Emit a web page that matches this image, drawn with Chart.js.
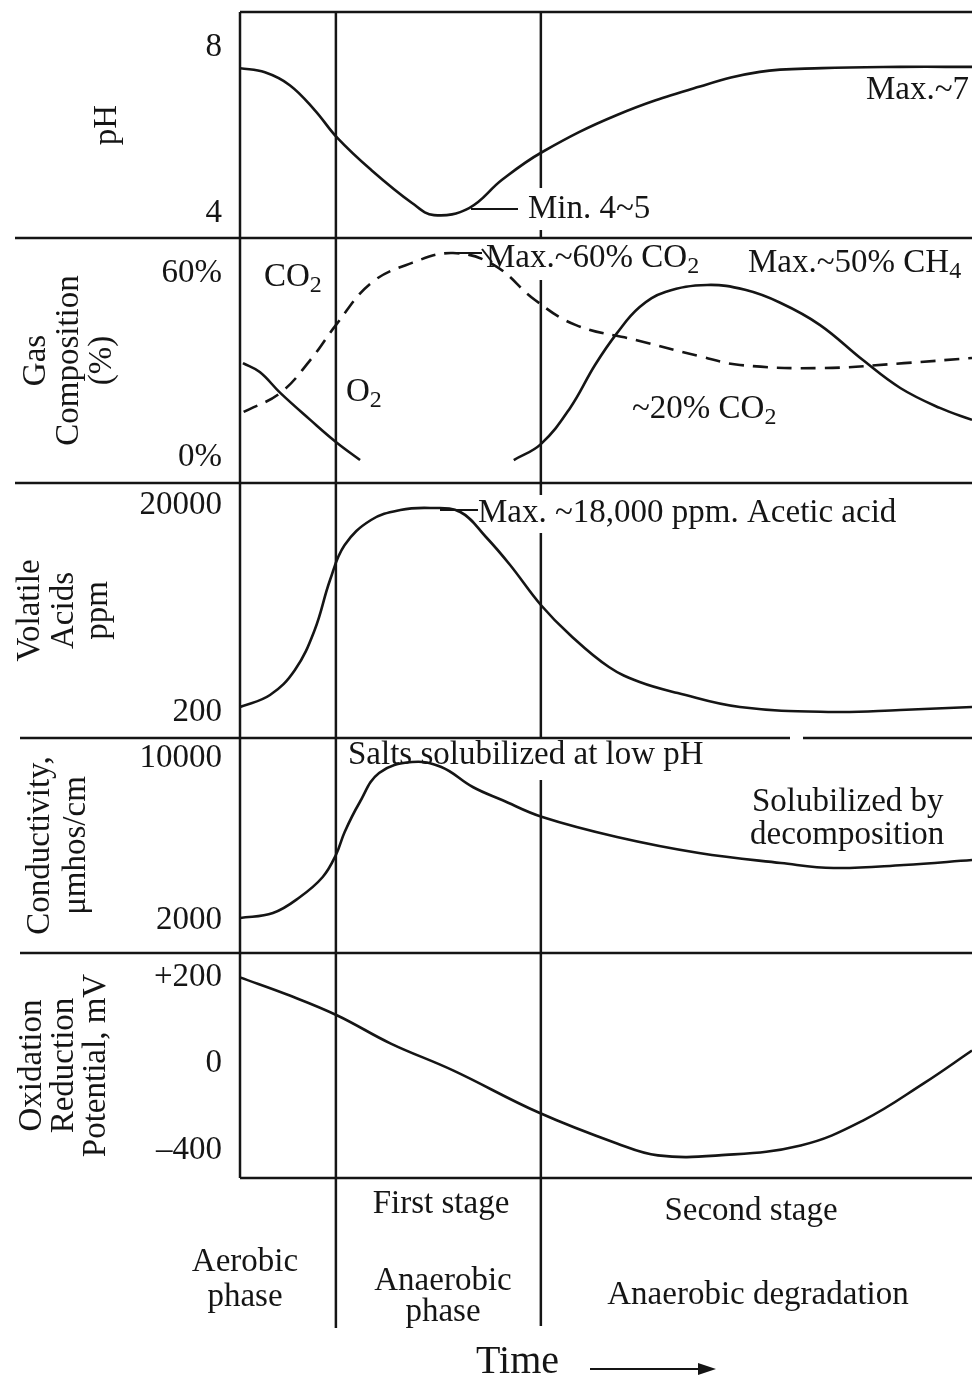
<!DOCTYPE html>
<html><head><meta charset="utf-8">
<script src="https://cdn.jsdelivr.net/npm/chart.js@4.4.1/dist/chart.umd.min.js"></script>
<style>
html,body{margin:0;padding:0;background:#fff;width:972px;height:1382px;overflow:hidden;position:relative;}
canvas{position:absolute;left:0;}
</style></head><body>
<canvas id="cPh"></canvas>
<canvas id="cGas"></canvas>
<canvas id="cVa"></canvas>
<canvas id="cCond"></canvas>
<canvas id="cOrp"></canvas>
<script>
// ---------------- data (time in arbitrary units 0..100) ----------------
const phaseBounds = [0, 13.1, 41.1, 100];

const phTime   = [0, 3.4, 6.8, 10.2, 13.3, 17.9, 23.5, 26.5, 31.3, 35.8, 41.3, 51.5, 62.7, 71.0, 79.5, 90.2, 100];
const phValues = [7.49, 7.39, 7.08, 6.48, 5.81, 5.04, 4.24, 3.95, 4.12, 4.80, 5.47, 6.36, 7.04, 7.40, 7.49, 7.52, 7.52];
const phTicks  = [8, 4];
const phLabels = ['8', '4'];

const co2Time   = [0.5, 5.5, 9.6, 13.1, 17.9, 23.5, 29.1, 34.7, 40.3, 45.9, 54.2, 62.7, 68.3, 79.5, 90.7, 100];
const co2Values = [14.7, 20.9, 31.6, 43.0, 56.7, 63.3, 66.5, 62.6, 51.2, 43.0, 38.1, 32.9, 30.0, 29.0, 30.6, 32.3];
const o2Time    = [0.4, 2.7, 5.5, 9.6, 13.1, 16.4];
const o2Values  = [30.6, 27.7, 20.9, 12.1, 4.9, -1.0];
const ch4Time   = [37.4, 41.1, 45.1, 48.5, 51.5, 54.6, 58.1, 63.8, 69.0, 73.8, 79.2, 85.1, 90.2, 95.6, 100];
const ch4Values = [-1.0, 4.2, 16.0, 30.0, 40.4, 48.9, 53.8, 56.1, 54.5, 50.3, 43.1, 31.6, 22.5, 16.0, 12.1];
const gasTicks  = [60, 0];
const gasLabels = ['60%', '0%'];

const vaTime   = [0, 4.1, 7.5, 10.2, 12.3, 14.3, 17.9, 21.9, 26.0, 30.1, 33.6, 36.9, 41.1, 45.1, 50.4, 54.6, 59.8, 68.3, 81.1, 90.2, 100];
const vaValues = [678, 1826, 4217, 8043, 12826, 16174, 18565, 19521, 19713, 19330, 16939, 14261, 10435, 7565, 4504, 3070, 2017, 678, 200, 391, 678];
const vaTicks  = [20000, 200];
const vaLabels = ['20000', '200'];

const condTime   = [0, 4.5, 8.2, 11.3, 13.1, 14.3, 16.3, 19.0, 23.5, 27.5, 31.8, 35.8, 41.3, 51.5, 62.7, 73.9, 81.1, 90.7, 100];
const condValues = [2099, 2346, 3136, 4123, 5210, 6346, 7777, 9259, 9802, 9555, 8568, 7926, 7086, 6099, 5309, 4815, 4568, 4716, 4963];
const condTicks  = [10000, 2000];
const condLabels = ['10000', '2000'];

const orpTime   = [0, 6.8, 13.3, 20.6, 29.1, 40.8, 51.5, 57.1, 65.4, 76.6, 85.1, 93.4, 100];
const orpValues = [199, 157, 111, 46, -32, -227, -370, -425, -425, -379, -264, -92, 30];
const orpTicks  = [200, 0, -400];
const orpLabels = ['+200', '0', '\u2013400'];
// the printed ORP axis is not linear: +200..0 and 0..-400 take equal heights
const orpToAxis = v => v >= 0 ? v / 200 : v / 400;

// ---------------- drawing ----------------
const INK = '#151515';
const FONT = "'Liberation Serif', 'Times New Roman', serif";
Chart.defaults.font.family = FONT;
Chart.defaults.color = INK;

const zip = (xs, ys) => xs.map((x, i) => ({x, y: ys[i]}));

function drawRuns(ctx, runs, x, y, size, align) {
  ctx.textBaseline = 'middle';
  ctx.textAlign = 'left';
  const fs = r => (r.sub ? Math.round(size * 0.72) : size);
  let total = 0;
  for (const r of runs) { ctx.font = fs(r) + 'px ' + FONT; total += ctx.measureText(r.s).width; }
  let cx = align === 'center' ? x - total / 2 : x;
  for (const r of runs) {
    ctx.font = fs(r) + 'px ' + FONT;
    ctx.fillText(r.s, cx, y + (r.sub ? size * 0.27 : 0));
    cx += ctx.measureText(r.s).width;
  }
}

function decor(p) {
  return {
    id: 'decor_' + p.key,
    afterDatasetsDraw(chart) {
      const {ctx, chartArea: a, scales: {x}} = chart;
      const off = p.canvasTop;
      ctx.save();
      ctx.strokeStyle = INK; ctx.fillStyle = INK; ctx.lineWidth = 2.5;
      const seg = (x1, y1, x2, y2) => { ctx.beginPath(); ctx.moveTo(x1, y1); ctx.lineTo(x2, y2); ctx.stroke(); };
      seg(a.left, a.top, a.left, a.bottom);
      if (p.topLine) seg(a.left, a.top, a.right, a.top);
      let sx = p.sepLeft;
      for (const [g1, g2] of (p.sepGaps || [])) { seg(sx, a.bottom, g1, a.bottom); sx = g2; }
      seg(sx, a.bottom, a.right, a.bottom);
      const xa = x.getPixelForValue(phaseBounds[1]);
      const xb = x.getPixelForValue(phaseBounds[2]);
      seg(xa, a.top, xa, p.vaEnd ? p.vaEnd - off : a.bottom);
      for (const [y1, y2] of p.vbSegs) seg(xb, y1 - off, xb, y2 - off);
      ctx.lineWidth = 2;
      for (const l of (p.leaders || [])) seg(l[0], l[1] - off, l[2], l[3] - off);
      for (const t of (p.texts || [])) drawRuns(ctx, t.runs, t.x, t.y - off, t.size || 33, t.align || 'left');
      if (p.after) p.after(ctx, off, x, seg);
      ctx.restore();
    }
  };
}

function makeChart(id, cfg) {
  const cv = document.getElementById(id);
  const canvasTop = cfg.top - 10;
  const h = cfg.bottom - cfg.top + 10 + cfg.padBottom;
  cv.width = 972; cv.height = h;
  cv.style.top = canvasTop + 'px'; cv.style.width = '972px'; cv.style.height = h + 'px';
  cfg.canvasTop = canvasTop;
  return new Chart(cv, {
    type: 'line',
    data: {datasets: cfg.datasets},
    options: {
      responsive: false, animation: false, devicePixelRatio: 1,
      layout: {padding: {top: 10, bottom: cfg.padBottom, left: 0, right: 0}, autoPadding: false},
      plugins: {legend: {display: false}, tooltip: {enabled: false}},
      elements: {
        point: {radius: 0},
        line: {borderColor: INK, borderWidth: 2.6, tension: 0.4, fill: false}
      },
      scales: {
        x: {type: 'linear', min: 0, max: 100, display: false},
        y: {
          type: 'linear', position: 'left', min: cfg.min, max: cfg.max,
          grid: {display: false, drawTicks: false}, border: {display: false},
          afterFit(s) { s.width = 240; s.paddingTop = 0; s.paddingBottom = 0; },
          afterBuildTicks(s) { s.ticks = cfg.ticks.map(v => ({value: v})); },
          ticks: {padding: 18, color: INK, font: {size: 33}, autoSkip: false,
                  callback: v => cfg.labels[cfg.ticks.indexOf(v)]},
          title: {display: true, text: cfg.title, color: INK,
                  font: {size: 33, lineHeight: cfg.titleLH}, padding: {top: cfg.titlePad, bottom: 0}}
        }
      }
    },
    plugins: [decor(cfg)]
  });
}

const line = (data, extra) => Object.assign({data, borderColor: INK, borderWidth: 2.6, pointRadius: 0, tension: 0.4}, extra || {});

makeChart('cPh', {
  key: 'ph', top: 12, bottom: 238, padBottom: 10,
  min: 3.398, max: 8.843, ticks: phTicks, labels: phLabels,
  title: 'pH', titleLH: '33px', titlePad: 91,
  topLine: true, sepLeft: 15,
  vbSegs: [[12, 188], [230, 238]],
  datasets: [line(zip(phTime, phValues))],
  leaders: [[471, 209, 518, 209]],
  texts: [
    {runs: [{s: 'Min. 4~5'}], x: 528, y: 209},
    {runs: [{s: 'Max.~7'}], x: 866, y: 90}
  ]
});

makeChart('cGas', {
  key: 'gas', top: 238, bottom: 483, padBottom: 10,
  min: -8.48, max: 71.41, ticks: gasTicks, labels: gasLabels,
  title: ['Gas', 'Composition', '(%)'], titleLH: '33px', titlePad: 20,
  sepLeft: 15,
  vbSegs: [[280, 483]],
  datasets: [
    line(zip(co2Time, co2Values), {borderDash: [15, 9]}),
    line(zip(o2Time, o2Values)),
    line(zip(ch4Time, ch4Values))
  ],
  leaders: [[455, 253, 482, 253], [482, 249, 492, 262]],
  texts: [
    {runs: [{s: 'CO'}, {s: '2', sub: true}], x: 264, y: 277},
    {runs: [{s: 'O'}, {s: '2', sub: true}], x: 346, y: 392},
    {runs: [{s: 'Max.~60% CO'}, {s: '2', sub: true}], x: 486, y: 258},
    {runs: [{s: 'Max.~50% CH'}, {s: '4', sub: true}], x: 748, y: 263},
    {runs: [{s: '~20% CO'}, {s: '2', sub: true}], x: 632, y: 409}
  ]
});

makeChart('cVa', {
  key: 'va', top: 483, bottom: 738, padBottom: 10,
  min: -2287, max: 22104, ticks: vaTicks, labels: vaLabels,
  title: ['Volatile', 'Acids', 'ppm'], titleLH: '34px', titlePad: 13,
  sepLeft: 20, sepGaps: [[790, 803]],
  vbSegs: [[483, 495], [533, 738]],
  datasets: [line(zip(vaTime, vaValues))],
  leaders: [[440, 510, 478, 510]],
  texts: [
    {runs: [{s: 'Max. ~18,000 ppm. Acetic acid'}], x: 478, y: 513}
  ]
});

makeChart('cCond', {
  key: 'cond', top: 738, bottom: 953, padBottom: 10,
  min: 370, max: 10988, ticks: condTicks, labels: condLabels,
  title: ['Conductivity,', '\u03bcmhos/cm'], titleLH: '36px', titlePad: 22,
  sepLeft: 20,
  vbSegs: [[780, 953]],
  datasets: [line(zip(condTime, condValues))],
  texts: [
    {runs: [{s: 'Salts solubilized at low pH'}], x: 348, y: 755},
    {runs: [{s: 'Solubilized by'}], x: 752, y: 802},
    {runs: [{s: 'decomposition'}], x: 750, y: 835}
  ]
});

makeChart('cOrp', {
  key: 'orp', top: 953, bottom: 1178, padBottom: 204,
  min: -1.324, max: 1.277, ticks: orpTicks.map(orpToAxis), labels: orpLabels,
  title: ['Oxidation', 'Reduction', 'Potential, mV'], titleLH: '32px', titlePad: 16,
  sepLeft: 240, vaEnd: 1328,
  vbSegs: [[953, 1326]],
  datasets: [line(zip(orpTime, orpValues.map(orpToAxis)))],
  texts: [
    {runs: [{s: 'Aerobic'}], x: 245, y: 1262, align: 'center'},
    {runs: [{s: 'phase'}], x: 245, y: 1297, align: 'center'},
    {runs: [{s: 'First stage'}], x: 441, y: 1204, align: 'center'},
    {runs: [{s: 'Anaerobic'}], x: 443, y: 1281, align: 'center'},
    {runs: [{s: 'phase'}], x: 443, y: 1312, align: 'center'},
    {runs: [{s: 'Second stage'}], x: 751, y: 1211, align: 'center'},
    {runs: [{s: 'Anaerobic degradation'}], x: 758, y: 1295, align: 'center'},
    {runs: [{s: 'Time'}], x: 476, y: 1362, size: 40}
  ],
  after(ctx, off, x, seg) {
    ctx.lineWidth = 2;
    seg(590, 1369 - off, 703, 1369 - off);
    ctx.beginPath();
    ctx.moveTo(716, 1369 - off);
    ctx.lineTo(698, 1363 - off);
    ctx.lineTo(698, 1375 - off);
    ctx.closePath();
    ctx.fill();
  }
});
</script>
</body></html>
